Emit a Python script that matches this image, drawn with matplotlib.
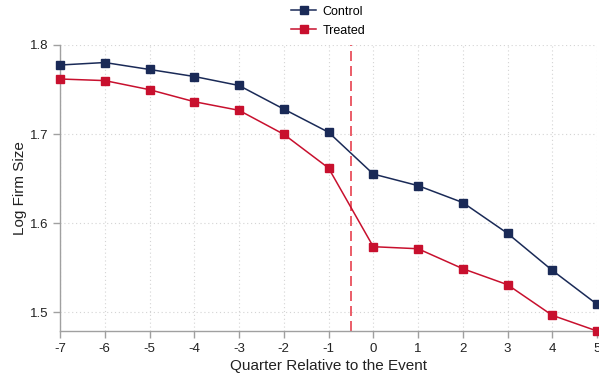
import numpy as np
import matplotlib
matplotlib.use('Agg')
import matplotlib.pyplot as plt

plt.rcParams['font.family'] = ['Liberation Sans', 'DejaVu Sans']
plt.rcParams['axes.unicode_minus'] = False

# quarters relative to the event
quarters = [-7, -6, -5, -4, -3, -2, -1, 0, 1, 2, 3, 4, 5]
control = [1.7775, 1.7803, 1.7725, 1.7646, 1.7545, 1.728, 1.702,
           1.655, 1.642, 1.623, 1.5884, 1.5468, 1.5087]
treated = [1.7618, 1.760, 1.7498, 1.7363, 1.7266, 1.6997, 1.6618,
           1.5734, 1.5711, 1.5487, 1.5307, 1.4963, 1.4787]
yticks = [1.5, 1.6, 1.7, 1.8]
event_line = -0.5

c_control = '#1a2a57'
c_treated = '#c8102e'
c_axis = '#a0a0a0'

fig = plt.figure(figsize=(5.99, 3.74), dpi=100)
ax = fig.add_axes([0.1002, 0.115, 0.8965, 0.7647])

ax.plot(quarters, control, color=c_control, lw=1.1, marker='s', ms=6,
        label='Control', clip_on=False, zorder=3)
ax.plot(quarters, treated, color=c_treated, lw=1.1, marker='s', ms=6,
        label='Treated', clip_on=False, zorder=3)
ax.axvline(event_line, color='#e8424f', lw=1.2, ls=(0, (6, 3)), zorder=2)

ax.set_xlim(-7, 5)
ax.set_ylim(min(treated), 1.8)
ax.set_xticks(quarters)
ax.set_yticks(yticks)
ax.set_yticklabels([f'{v:.1f}' for v in yticks])

ax.grid(True, color='#d4d4d4', ls=(0, (1, 2.5)), lw=0.8)
ax.set_axisbelow(True)
for s in ['top', 'right']:
    ax.spines[s].set_visible(False)
for s in ['left', 'bottom']:
    ax.spines[s].set_color(c_axis)
    ax.spines[s].set_linewidth(1.0)
ax.tick_params(colors=c_axis, labelcolor='#222222', labelsize=9.5,
               length=5, width=1.0, direction='out')

ax.set_xlabel('Quarter Relative to the Event', fontsize=11, color='#222222', labelpad=3)
ax.set_ylabel('Log Firm Size', fontsize=11, color='#222222', labelpad=2)

fig.legend(loc='upper center', bbox_to_anchor=(0.548, 1.015), frameon=False,
           fontsize=9, handlelength=2.0, handletextpad=0.5, labelspacing=0.55,
           markerscale=0.85)

fig.savefig('out.png', dpi=100)
